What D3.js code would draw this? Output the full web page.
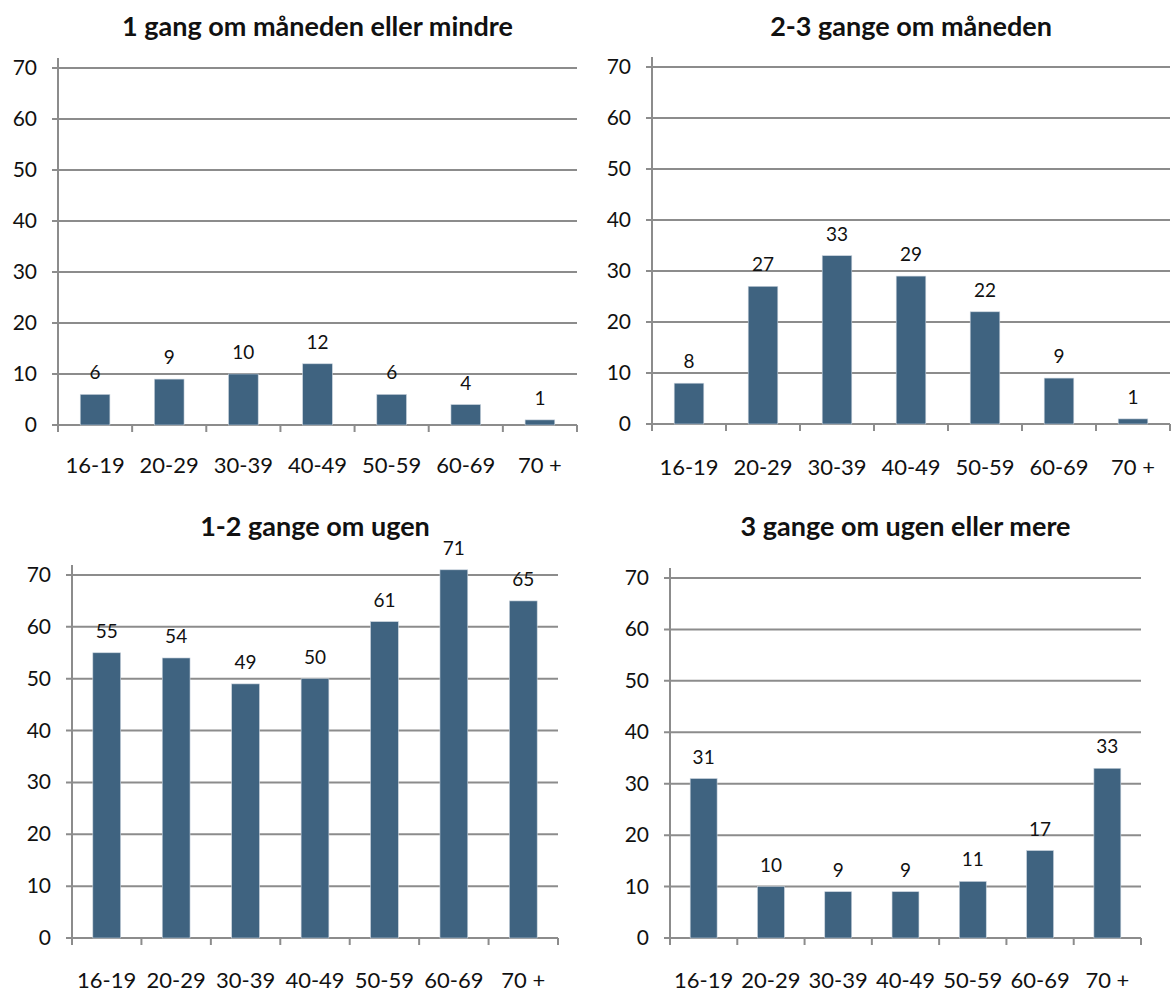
<html><head>
<meta charset="utf-8">
<script src="https://d3js.org/d3.v7.min.js"></script>
<style>
  body { margin: 0; background: white; font-family: Lato, "Open Sans", sans-serif; }
  .grid { stroke: #8c8c8c; stroke-width: 2; }
  .bar { fill: #3f6380; stroke: #c8d2dc; stroke-width: 0.6; }
  .lbl { fill: #111; }
</style>
</head>
<body>
<div id="chart"></div>
<script>
// DATA
var ageGroups = ["16-19", "20-29", "30-39", "40-49", "50-59", "60-69", "70 +"];
var yTicks = [0, 10, 20, 30, 40, 50, 60, 70];
var titles = ["1 gang om måneden eller mindre", "2-3 gange om måneden", "1-2 gange om ugen", "3 gange om ugen eller mere"];
var monthlyOrLess = [6, 9, 10, 12, 6, 4, 1];
var twoThreeMonthly = [8, 27, 33, 29, 22, 9, 1];
var oneTwoWeekly = [55, 54, 49, 50, 61, 71, 65];
var threeWeeklyPlus = [31, 10, 9, 9, 11, 17, 33];

var svg = d3.select("#chart").append("svg")
  .attr("width", 1171)
  .attr("height", 992);

// panel layout (left, right, bottom at 0, top at 70, title y, category label y)
var panels = [
  {title: titles[0], values: monthlyOrLess,   x0: 58,  x1: 577,  y0: 425, y1: 68,  ty: 36,  ly: 473},
  {title: titles[1], values: twoThreeMonthly, x0: 652, x1: 1170, y0: 424, y1: 67,  ty: 36,  ly: 475},
  {title: titles[2], values: oneTwoWeekly,    x0: 72,  x1: 558,  y0: 938, y1: 575, ty: 536, ly: 988},
  {title: titles[3], values: threeWeeklyPlus, x0: 670, x1: 1141, y0: 938, y1: 578, ty: 536, ly: 988}
];

panels.forEach(drawPanel);

function drawPanel(p) {
  var g = svg.append("g");

  var xScale = d3.scaleBand()
    .domain(ageGroups)
    .range([p.x0, p.x1])
    .padding(0);

  var yScale = d3.scaleLinear()
    .domain([0, 70])
    .range([p.y0, p.y1]);

  // gridlines
  g.selectAll(".grid").data(yTicks).enter().append("line")
    .attr("class", "grid")
    .attr("x1", p.x0 - 6)
    .attr("x2", p.x1)
    .attr("y1", function(d) { return yScale(d); })
    .attr("y2", function(d) { return yScale(d); });

  // y axis line
  g.append("line")
    .attr("class", "grid")
    .attr("x1", p.x0).attr("x2", p.x0)
    .attr("y1", yScale(70) - 10).attr("y2", yScale(0));

  // x ticks (category borders)
  var borders = ageGroups.map(function(a) { return xScale(a); }).concat([p.x1]);
  g.selectAll(".xtick").data(borders).enter().append("line")
    .attr("class", "grid")
    .attr("x1", function(d) { return d; })
    .attr("x2", function(d) { return d; })
    .attr("y1", yScale(0))
    .attr("y2", yScale(0) + 7);

  // y labels
  g.selectAll(".ylab").data(yTicks).enter().append("text")
    .attr("class", "lbl")
    .attr("x", p.x0 - 21)
    .attr("y", function(d) { return yScale(d) + 7; })
    .attr("text-anchor", "end")
    .style("font-size", "21px")
    .text(function(d) { return d; });

  // bars
  var bw = xScale.bandwidth() * 0.4;
  g.selectAll(".bar").data(p.values).enter().append("rect")
    .attr("class", "bar")
    .attr("x", function(d, i) { return xScale(ageGroups[i]) + (xScale.bandwidth() - bw) / 2; })
    .attr("y", function(d) { return yScale(d); })
    .attr("width", bw)
    .attr("height", function(d) { return yScale(0) - yScale(d); });

  // value labels
  g.selectAll(".val").data(p.values).enter().append("text")
    .attr("class", "lbl")
    .attr("x", function(d, i) { return xScale(ageGroups[i]) + xScale.bandwidth() / 2; })
    .attr("y", function(d) { return yScale(d) - 15; })
    .attr("text-anchor", "middle")
    .style("font-size", "19px")
    .text(function(d) { return d; });

  // category labels
  g.selectAll(".cat").data(ageGroups).enter().append("text")
    .attr("class", "lbl")
    .attr("x", function(d) { return xScale(d) + xScale.bandwidth() / 2; })
    .attr("y", p.ly)
    .attr("text-anchor", "middle")
    .style("font-size", "22px")
    .text(function(d) { return d; });

  // title
  g.append("text")
    .attr("class", "lbl")
    .attr("x", (p.x0 + p.x1) / 2)
    .attr("y", p.ty)
    .attr("text-anchor", "middle")
    .style("font-size", "27px")
    .style("font-weight", "bold")
    .text(p.title);
}
</script>
</body></html>
